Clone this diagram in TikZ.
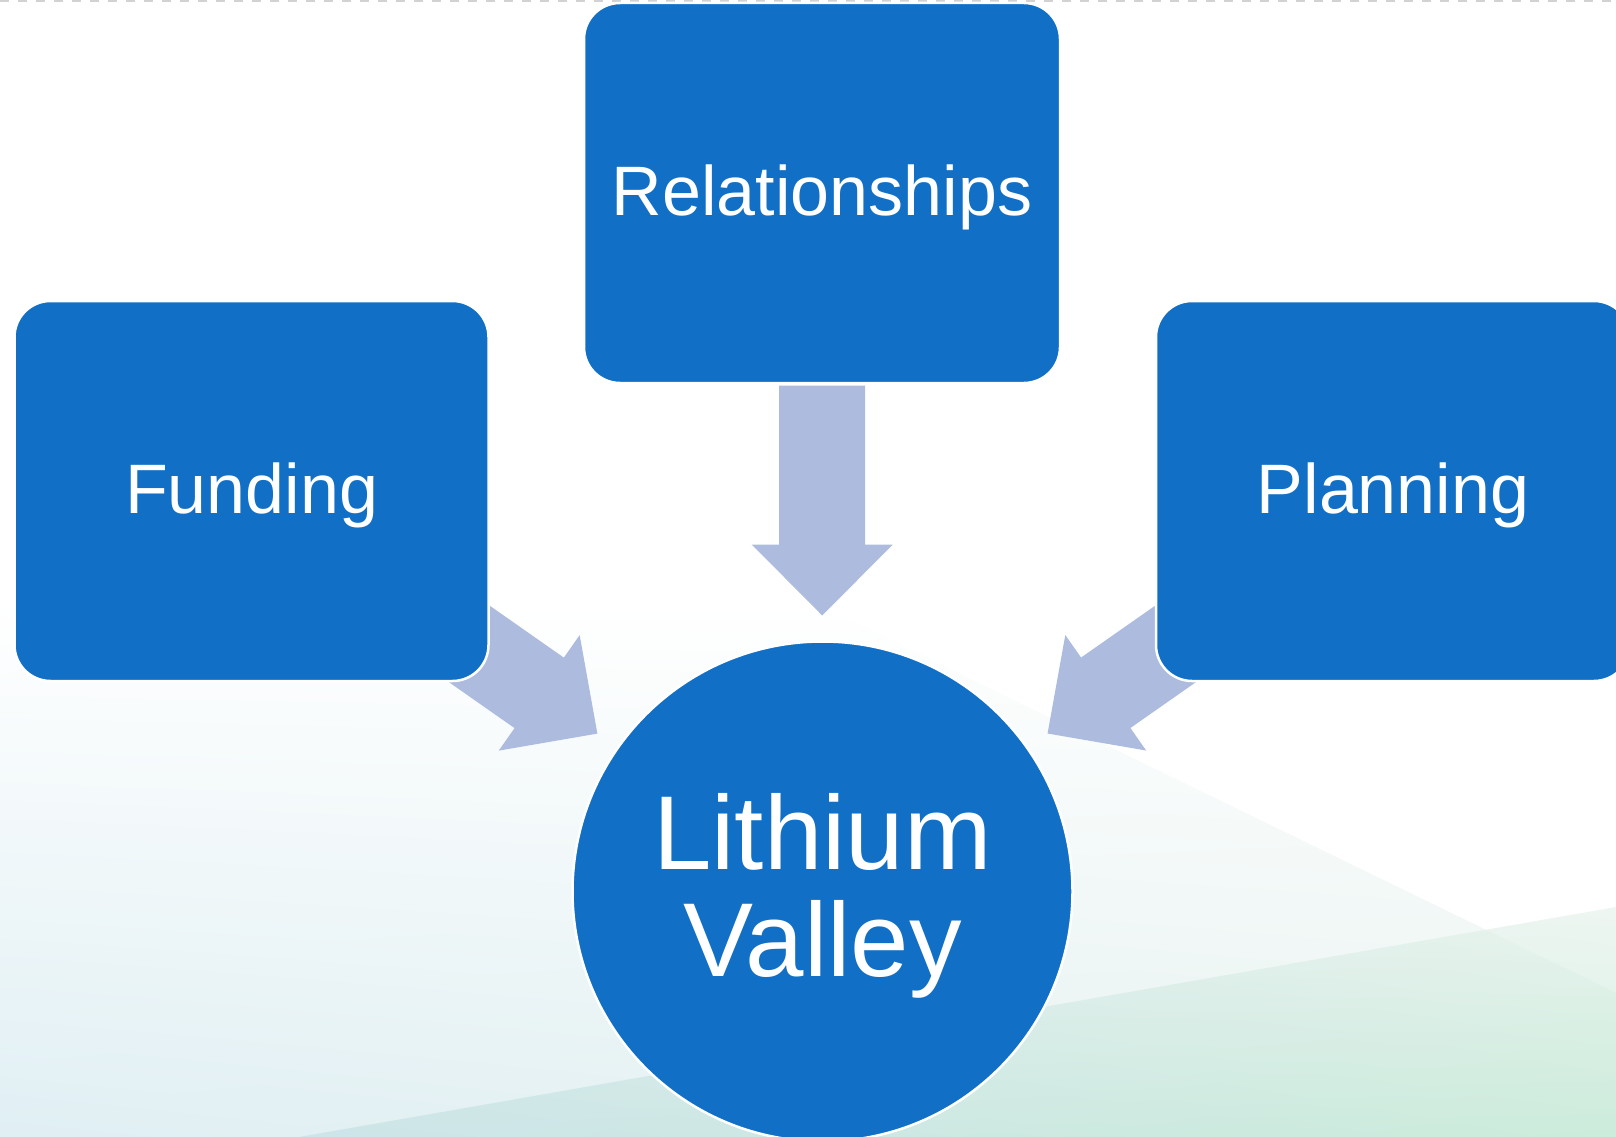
\documentclass[tikz,border=0pt]{standalone}
\usepackage{fontspec}
\setmainfont{Liberation Sans}
\usetikzlibrary{calc,shadings}
\definecolor{boxblue}{RGB}{17,112,198}
\definecolor{arrowcol}{RGB}{172,187,222}
\definecolor{tintAl}{RGB}{224,239,244}
\definecolor{tintAr}{RGB}{234,244,240}
\definecolor{tintBul}{RGB}{215,232,232}
\definecolor{tintBur}{RGB}{227,240,233}
\definecolor{tintBll}{RGB}{192,222,226}
\definecolor{tintBlr}{RGB}{184,231,205}
\definecolor{dashgray}{RGB}{210,210,210}
\pgfdeclarelayer{bglayer}
\pgfdeclarelayer{arrowlayer}
\pgfsetlayers{bglayer,arrowlayer,main}
\begin{document}
\begin{tikzpicture}[x=1pt,y=-1pt,
  box/.style={rectangle, rounded corners=36pt, fill=boxblue, draw=white, line width=2.5pt,
    minimum width=474pt, minimum height=380pt, inner sep=0pt, text=white,
    text height=50pt, text depth=6pt, font=\fontsize{70}{84}\selectfont},
  hub/.style={circle, fill=boxblue, draw=white, line width=2.5pt, minimum size=500pt,
    inner sep=0pt, text=white, align=center, font=\fontsize{105}{107}\selectfont},
  blockarrow/.style={fill=arrowcol}]
\useasboundingbox (0,0) rectangle (1616,1137);

% nodes
\node[box, minimum width=476pt] (rel) at (822,193) {Relationships};
\node[box] (fund) at (251.5,491) {Funding};
\node[box] (plan) at (1393,491) {Planning};
\node[hub] (lv) at (822.5,891.5) {\rule{0pt}{85pt}Lithium\\Valley};

% background
\begin{pgfonlayer}{bglayer}
  \fill[white] (0,0) rectangle (1616,1137);
  \shade[shading=bilinear interpolation,
         upper left=white, upper right=white, lower left=tintAl, lower right=tintAr]
    (0,600) -- (808,600) -- (1616,993) -- (1616,1137) -- (0,1137) -- cycle;
  \shade[shading=bilinear interpolation,
         upper left=tintBul, upper right=tintBur, lower left=tintBll, lower right=tintBlr,
         opacity=0.6]
    (299,1137) -- (1616,907) -- (1616,1137) -- cycle;
  \draw[dash pattern=on 9pt off 9pt, line width=1.5pt, dashgray] (0,1) -- (1616,1);
\end{pgfonlayer}

% block arrows (connectors)
\begin{pgfonlayer}{arrowlayer}
  \fill[blockarrow, shift={($(lv.center)!276pt!(rel.south)$)}, rotate=-90]
    (0,0) -- (-71,70.5) -- (-71,43) -- (-230,43) -- (-230,-43) -- (-71,-43) -- (-71,-70.5) -- cycle;
  \fill[blockarrow, shift={($(lv.center)!275pt!(fund.center)$)}, rotate=-35]
    (0,0) -- (-71,70.5) -- (-71,43) -- (-230,43) -- (-230,-43) -- (-71,-43) -- (-71,-70.5) -- cycle;
  \fill[blockarrow, shift={($(lv.center)!275pt!(plan.center)$)}, rotate=-145]
    (0,0) -- (-71,70.5) -- (-71,43) -- (-230,43) -- (-230,-43) -- (-71,-43) -- (-71,-70.5) -- cycle;
\end{pgfonlayer}
\end{tikzpicture}
\end{document}
